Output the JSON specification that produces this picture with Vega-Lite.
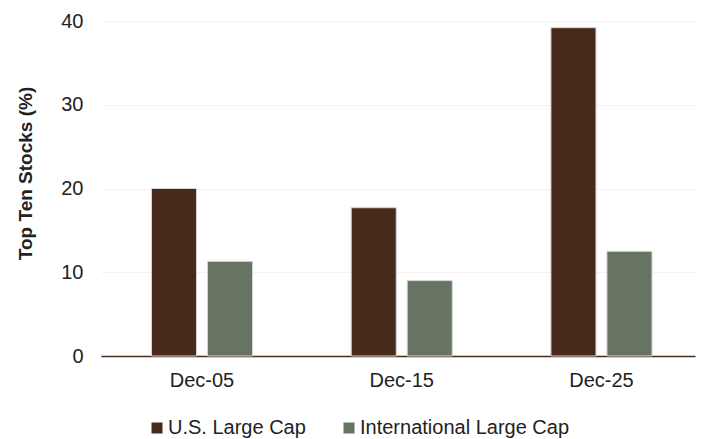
{
  "$schema": "https://vega.github.io/schema/vega-lite/v6.json",
  "width": 594,
  "height": 335,
  "autosize": {"type": "none"},
  "padding": {"left": 101, "top": 21, "right": 6, "bottom": 83},
  "background": "white",
  "config": {
    "font": "Liberation Sans",
    "view": {"stroke": null}
  },
  "data": {
    "values": [
      {"date": "Dec-05", "series": "U.S. Large Cap", "value": 20.0},
      {"date": "Dec-05", "series": "International Large Cap", "value": 11.3},
      {"date": "Dec-15", "series": "U.S. Large Cap", "value": 17.7},
      {"date": "Dec-15", "series": "International Large Cap", "value": 9.0},
      {"date": "Dec-25", "series": "U.S. Large Cap", "value": 39.2},
      {"date": "Dec-25", "series": "International Large Cap", "value": 12.5}
    ]
  },
  "mark": {"type": "bar", "stroke": "#d4d4d4", "strokeWidth": 1},
  "encoding": {
    "x": {
      "field": "date", "type": "nominal", "sort": null,
      "scale": {"paddingInner": 0.494, "paddingOuter": 0.234, "align": 0.54},
      "axis": {
        "title": null, "labelAngle": 0, "labelFontSize": 20, "labelColor": "#222222",
        "labelPadding": 14, "labelBaseline": "top", "ticks": false,
        "domainColor": "#4a2a1a", "domainWidth": 1.5, "grid": false
      }
    },
    "xOffset": {
      "field": "series", "type": "nominal",
      "sort": ["U.S. Large Cap", "International Large Cap"],
      "scale": {"paddingInner": 0.196, "paddingOuter": 0}
    },
    "y": {
      "field": "value", "type": "quantitative",
      "scale": {"domain": [0, 40], "nice": false},
      "axis": {
        "title": "Top Ten Stocks (%)", "titleFontSize": 19, "titleFontWeight": "bold",
        "titleColor": "#222222", "titleX": -76, "titleY": 152, "titleAngle": -90,
        "titleAlign": "center", "titleBaseline": "middle",
        "values": [0, 10, 20, 30, 40], "labelFontSize": 20, "labelColor": "#222222",
        "labelPadding": 18, "ticks": false, "domain": false,
        "grid": true, "gridColor": "#f8f0f0", "gridWidth": 1
      }
    },
    "color": {
      "field": "series", "type": "nominal",
      "sort": ["U.S. Large Cap", "International Large Cap"],
      "scale": {"domain": ["U.S. Large Cap", "International Large Cap"], "range": ["#472a1a", "#687463"]},
      "legend": {
        "title": null, "orient": "none", "direction": "horizontal",
        "legendX": 46, "legendY": 397, "symbolType": "square", "symbolSize": 121,
        "symbolStrokeWidth": 0, "labelFontSize": 20, "labelColor": "#222222",
        "labelOffset": 1, "labelLimit": 400, "columnPadding": 33
      }
    }
  }
}
